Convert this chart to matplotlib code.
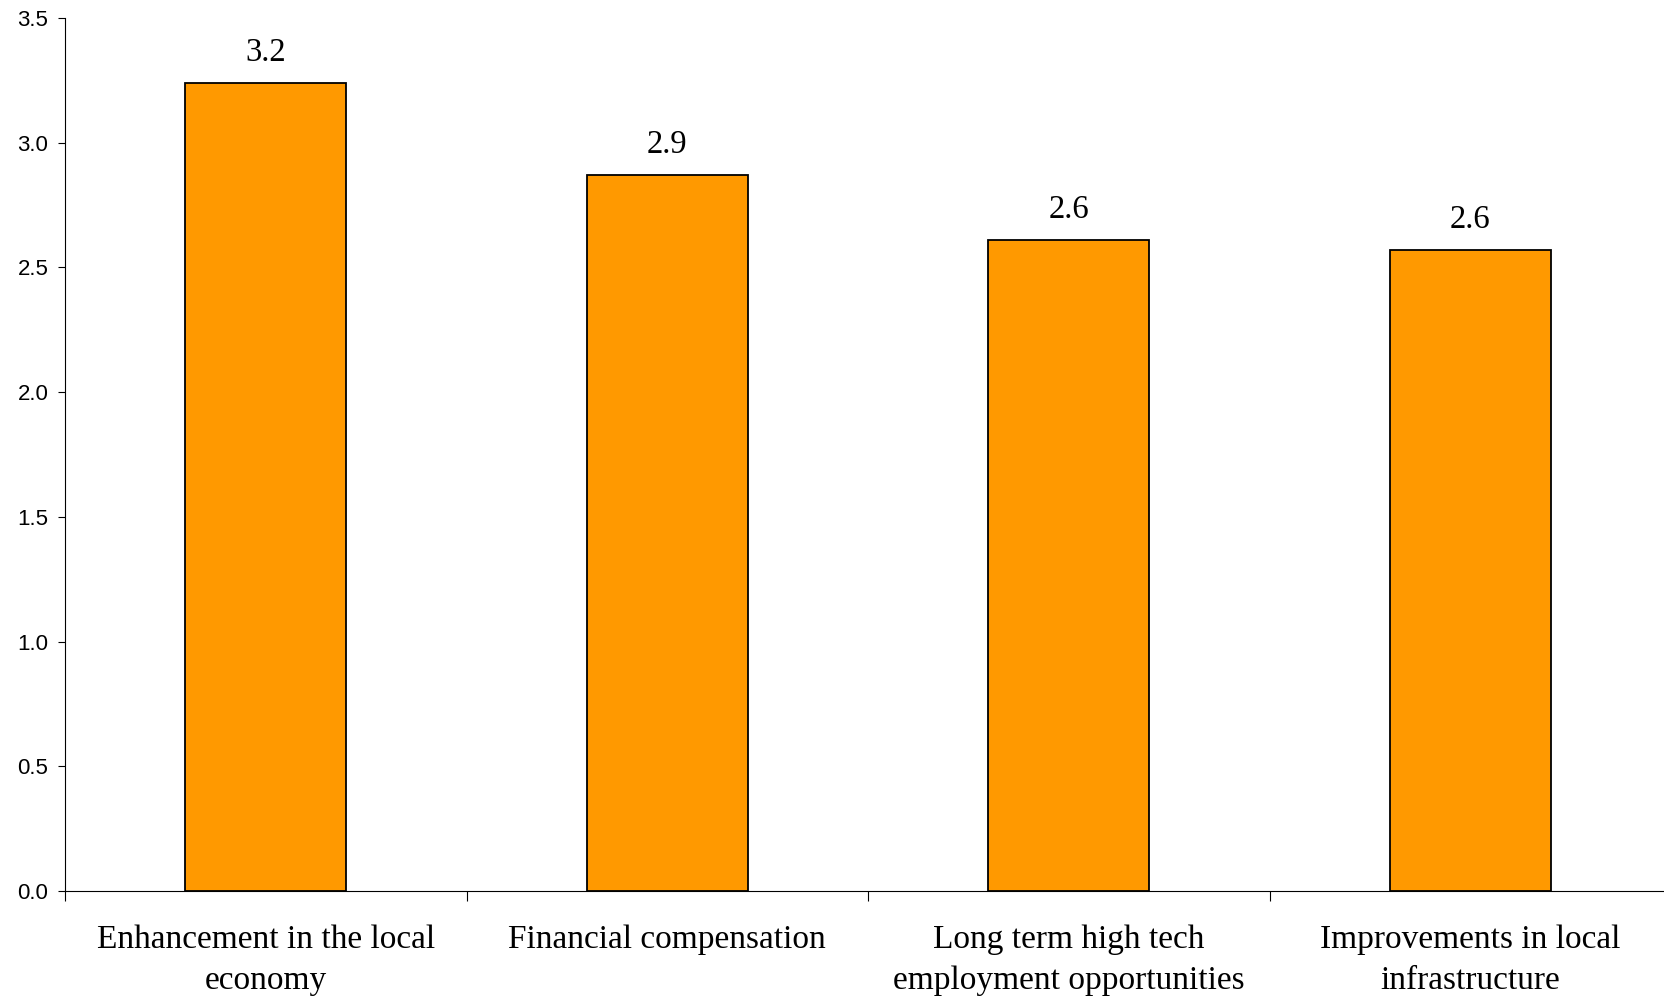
import matplotlib
matplotlib.use("Agg")
import matplotlib.pyplot as plt
import numpy as np

plt.rcParams["font.family"] = "Liberation Sans"
plt.rcParams["ytick.labelsize"] = 16

categories = ["Enhancement in the local\neconomy",
              "Financial compensation",
              "Long term high tech\nemployment opportunities",
              "Improvements in local\ninfrastructure"]
values = [3.24, 2.87, 2.61, 2.57]
value_labels = ["3.2", "2.9", "2.6", "2.6"]
yticks = [0.0, 0.5, 1.0, 1.5, 2.0, 2.5, 3.0, 3.5]

fig = plt.figure(figsize=(16.64, 9.99), dpi=100)
ax = fig.add_axes([65/1664, 108/999, 1606/1664, 873/999])

x = np.arange(len(categories))
ax.bar(x, values, width=0.4, color="#FF9900", edgecolor="black", linewidth=1.3, zorder=3)
for xi, v, lab in zip(x, values, value_labels):
    ax.annotate(lab, (xi, v), xytext=(0, 16), textcoords="offset points",
                ha="center", va="baseline", fontsize=23.5, family="Liberation Serif")

ax.set_xlim(-0.5, len(categories) - 0.5)
ax.set_ylim(0, 3.5)
ax.tick_params(axis="y", length=5, width=0.8, pad=7)
ax.set_yticks(yticks)
ax.set_yticklabels([f"{t:.1f}" for t in yticks], fontsize=16, family="Liberation Sans")

ax.set_xticks(np.arange(len(categories) + 1) - 0.5)
ax.set_xticklabels([])
ax.tick_params(axis="x", which="major", length=7, width=0.8)
ax.tick_params(axis="x", which="minor", length=0, pad=24)
ax.set_xticks(x, minor=True)
ax.set_xticklabels(categories, minor=True, fontsize=24, family="Liberation Serif",
                   linespacing=1.45)

for s in ["top", "right"]:
    ax.spines[s].set_visible(False)
for s in ["left", "bottom"]:
    ax.spines[s].set_linewidth(0.8)

fig.savefig("out.png", dpi=100)
